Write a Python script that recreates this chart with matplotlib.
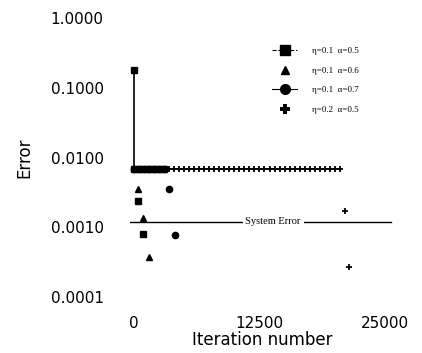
import matplotlib.pyplot as plt
from matplotlib.lines import Line2D

# values
sq_x = [0, 0, 500, 1000, 1500, 2000, 2500, 3000]
sq_y = [0.18, 0.0068, 0.0068, 0.0068, 0.0068, 0.0068, 0.0068, 0.0068]
ci_x = [0, 500, 1000, 1500, 2000, 2500, 3000]
ci_y = [0.0068] * 7
pl_x = [3000 + 500 * i for i in range(36)]
pl_y = [0.0068] * 36

# scattered points off the line
sq_ox = [400, 900]
sq_oy = [0.0024, 0.00079]
tr_ox = [400, 900, 1500]
tr_oy = [0.0036, 0.00134, 0.00038]
ci_ox = [3500, 4100]
ci_oy = [0.0035, 0.00077]
pl_ox = [21000, 21400]
pl_oy = [0.0017, 0.00027]

sys_err = 0.0012
labels = ['η=0.1  α=0.5', 'η=0.1  α=0.6', 'η=0.1  α=0.7', 'η=0.2  α=0.5']

fig = plt.figure(figsize=(4.22, 3.53), dpi=100)
ax = fig.add_axes([0.308, 0.1586, 0.628, 0.790])

ax.plot(pl_x, pl_y, '-', color='k', lw=1.2, marker='+', ms=5, mew=1.3)
ax.plot(ci_x, ci_y, '-', color='k', lw=1.2, marker='o', ms=4.5)
ax.plot(sq_x, sq_y, '-', color='k', lw=1.2, marker='s', ms=4.5)

ax.plot(sq_ox, sq_oy, 's', color='k', ms=4.5, ls='none')
ax.plot(tr_ox, tr_oy, '^', color='k', ms=4.5, ls='none')
ax.plot(ci_ox, ci_oy, 'o', color='k', ms=4.5, ls='none')
ax.plot(pl_ox, pl_oy, '+', color='k', ms=5, mew=1.3, ls='none')

ax.axhline(sys_err, color='k', lw=1.0, xmin=0.0, xmax=0.985)
ax.text(13850, sys_err, 'System Error', family='Liberation Serif', fontsize=7.5,
        ha='center', va='center', bbox=dict(facecolor='white', edgecolor='none', pad=2))

ax.set_yscale('log')
ax.set_ylim(1e-4, 1)
ax.set_xlim(-400, 26000)
ax.set_yticks([1e-4, 1e-3, 1e-2, 1e-1, 1])
ax.set_yticklabels(['0.0001', '0.0010', '0.0100', '0.1000', '1.0000'])
ax.minorticks_off()
ax.set_xticks([0, 12500, 25000])
ax.set_xticklabels(['0', '12500', '25000'])
ax.tick_params(length=0, labelsize=11)
ax.tick_params(axis='y', pad=19)
ax.tick_params(axis='x', pad=14)
for s in ax.spines.values():
    s.set_visible(False)

ax.set_xlabel('Iteration number', fontsize=12, labelpad=0)
ax.set_ylabel('Error', fontsize=12)
ax.yaxis.set_label_coords(-0.365, 0.5)

handles = [
    Line2D([], [], color='k', lw=0.8, ls='--', marker='s', ms=7),
    Line2D([], [], color='k', ls='none', marker='^', ms=6),
    Line2D([], [], color='k', lw=0.8, ls='-', marker='o', ms=7),
    Line2D([], [], color='k', ls='none', marker='P', ms=7, mew=0),
]
leg = fig.legend(handles, labels, loc='upper left', bbox_to_anchor=(0.625, 0.89),
                 frameon=False, prop={'family': 'Liberation Serif', 'size': 6.5},
                 handlelength=2.8, labelspacing=1.25, handletextpad=1.6)

fig.savefig('out.png', dpi=100)
